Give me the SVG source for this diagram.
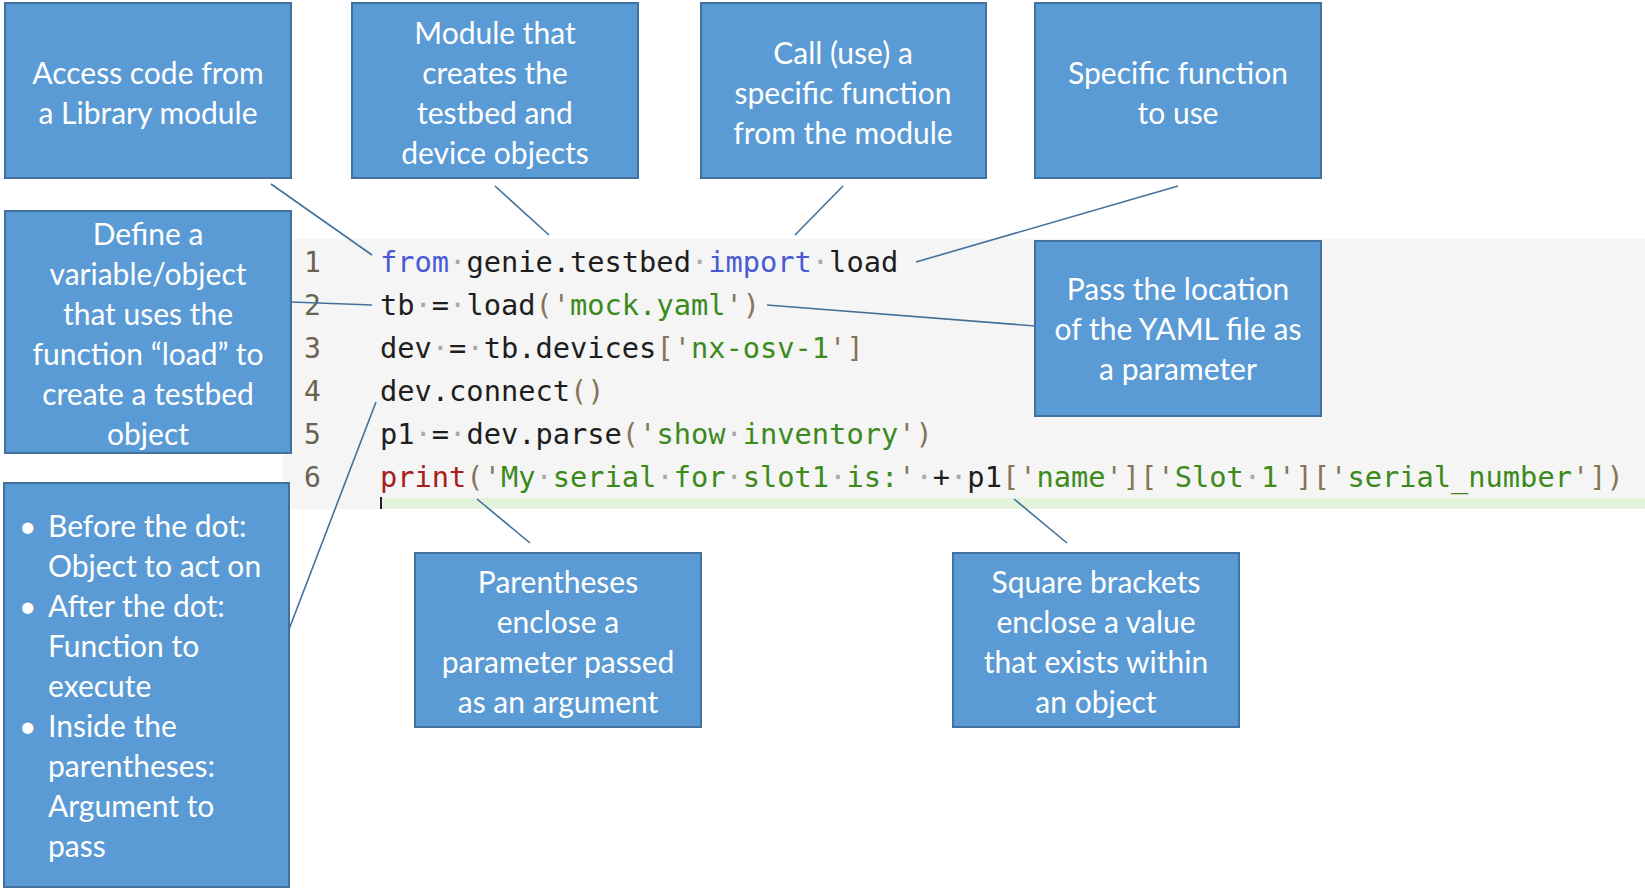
<svg xmlns="http://www.w3.org/2000/svg" width="1645" height="889" viewBox="0 0 1645 889">
<style>
.box{fill:#5b9bd5;stroke:#41719c;stroke-width:2}
.lbl{font-family:Lato,"Open Sans",sans-serif;font-size:30px;fill:#ffffff;text-anchor:middle}
.blt{font-family:Lato,"Open Sans",sans-serif;font-size:30px;fill:#ffffff}
.code{font-family:"DejaVu Sans Mono","Liberation Mono",monospace;font-size:28.7px;fill:#1e1e1e}
.ln{font-family:"DejaVu Sans Mono","Liberation Mono",monospace;font-size:28px;fill:#6b6352}
.kw{fill:#4a5ad6}
.str{fill:#3c8a1c}
.pn{fill:#857659}
.dt{fill:#a8a8a8}
.pr{fill:#a51d1d}
.conn line{stroke:#41719c;stroke-width:1.6}
</style>
<rect width="1645" height="889" fill="#ffffff"/>
<g id="code-area">
<rect x="283" y="239" width="1362" height="270" fill="#f5f5f5"/>
<rect x="380" y="498" width="1265" height="11" fill="#e4f4da"/>
<rect x="380" y="497" width="2" height="12" fill="#222"/>
<g class="ln">
<text x="304" y="272">1</text>
<text x="304" y="315">2</text>
<text x="304" y="358">3</text>
<text x="304" y="401">4</text>
<text x="304" y="444">5</text>
<text x="304" y="487">6</text>
</g>
<text class="code" x="380" y="272"><tspan class="kw">from</tspan><tspan class="dt">·</tspan>genie.testbed<tspan class="dt">·</tspan><tspan class="kw">import</tspan><tspan class="dt">·</tspan>load</text>
<text class="code" x="380" y="315">tb<tspan class="dt">·</tspan>=<tspan class="dt">·</tspan>load<tspan class="pn">('</tspan><tspan class="str">mock.yaml</tspan><tspan class="pn">')</tspan></text>
<text class="code" x="380" y="358">dev<tspan class="dt">·</tspan>=<tspan class="dt">·</tspan>tb.devices<tspan class="pn">['</tspan><tspan class="str">nx-osv-1</tspan><tspan class="pn">']</tspan></text>
<text class="code" x="380" y="401">dev.connect<tspan class="pn">()</tspan></text>
<text class="code" x="380" y="444">p1<tspan class="dt">·</tspan>=<tspan class="dt">·</tspan>dev.parse<tspan class="pn">('</tspan><tspan class="str">show</tspan><tspan class="dt">·</tspan><tspan class="str">inventory</tspan><tspan class="pn">')</tspan></text>
<text class="code" x="380" y="487"><tspan class="pr">print</tspan><tspan class="pn">('</tspan><tspan class="str">My</tspan><tspan class="dt">·</tspan><tspan class="str">serial</tspan><tspan class="dt">·</tspan><tspan class="str">for</tspan><tspan class="dt">·</tspan><tspan class="str">slot1</tspan><tspan class="dt">·</tspan><tspan class="str">is:</tspan><tspan class="pn">'</tspan><tspan class="dt">·</tspan>+<tspan class="dt">·</tspan>p1<tspan class="pn">['</tspan><tspan class="str">name</tspan><tspan class="pn">']['</tspan><tspan class="str">Slot</tspan><tspan class="dt">·</tspan><tspan class="str">1</tspan><tspan class="pn">']['</tspan><tspan class="str">serial_number</tspan><tspan class="pn">'])</tspan></text>
</g>
<g class="conn" id="connectors">
<line x1="271" y1="184" x2="372" y2="255"/>
<line x1="495" y1="186" x2="549" y2="235"/>
<line x1="843" y1="186" x2="795" y2="235"/>
<line x1="1178" y1="186" x2="916" y2="262"/>
<line x1="291" y1="302" x2="372" y2="305"/>
<line x1="767" y1="305" x2="1035" y2="326"/>
<line x1="288" y1="632" x2="376" y2="402"/>
<line x1="530" y1="543" x2="477" y2="499"/>
<line x1="1067" y1="543" x2="1014" y2="499"/>
</g>
<g id="box-access">
<rect class="box" x="5" y="3" width="286" height="175"/>
<text class="lbl" x="148" y="84">Access code from</text>
<text class="lbl" x="148" y="124">a Library module</text>
</g>
<g id="box-module">
<rect class="box" x="352" y="3" width="286" height="175"/>
<text class="lbl" x="495" y="44">Module that</text>
<text class="lbl" x="495" y="84">creates the</text>
<text class="lbl" x="495" y="124">testbed and</text>
<text class="lbl" x="495" y="164">device objects</text>
</g>
<g id="box-call">
<rect class="box" x="701" y="3" width="285" height="175"/>
<text class="lbl" x="843" y="64">Call (use) a</text>
<text class="lbl" x="843" y="104">specific function</text>
<text class="lbl" x="843" y="144">from the module</text>
</g>
<g id="box-specific">
<rect class="box" x="1035" y="3" width="286" height="175"/>
<text class="lbl" x="1178" y="84">Specific function</text>
<text class="lbl" x="1178" y="124">to use</text>
</g>
<g id="box-define">
<rect class="box" x="5" y="211" width="286" height="242"/>
<text class="lbl" x="148" y="245">Define a</text>
<text class="lbl" x="148" y="285">variable/object</text>
<text class="lbl" x="148" y="325">that uses the</text>
<text class="lbl" x="148" y="365">function “load” to</text>
<text class="lbl" x="148" y="405">create a testbed</text>
<text class="lbl" x="148" y="445">object</text>
</g>
<g id="box-pass">
<rect class="box" x="1035" y="241" width="286" height="175"/>
<text class="lbl" x="1178" y="300">Pass the location</text>
<text class="lbl" x="1178" y="340">of the YAML file as</text>
<text class="lbl" x="1178" y="380">a parameter</text>
</g>
<g id="box-dot">
<rect class="box" x="4" y="483" width="285" height="404"/>
<text class="blt" x="19" y="537">•</text>
<text class="blt" x="48" y="537">Before the dot:</text>
<text class="blt" x="48" y="577">Object to act on</text>
<text class="blt" x="19" y="617">•</text>
<text class="blt" x="48" y="617">After the dot:</text>
<text class="blt" x="48" y="657">Function to</text>
<text class="blt" x="48" y="697">execute</text>
<text class="blt" x="19" y="737">•</text>
<text class="blt" x="48" y="737">Inside the</text>
<text class="blt" x="48" y="777">parentheses:</text>
<text class="blt" x="48" y="817">Argument to</text>
<text class="blt" x="48" y="857">pass</text>
</g>
<g id="box-parens">
<rect class="box" x="415" y="553" width="286" height="174"/>
<text class="lbl" x="558" y="593">Parentheses</text>
<text class="lbl" x="558" y="633">enclose a</text>
<text class="lbl" x="558" y="673">parameter passed</text>
<text class="lbl" x="558" y="713">as an argument</text>
</g>
<g id="box-brackets">
<rect class="box" x="953" y="553" width="286" height="174"/>
<text class="lbl" x="1096" y="593">Square brackets</text>
<text class="lbl" x="1096" y="633">enclose a value</text>
<text class="lbl" x="1096" y="673">that exists within</text>
<text class="lbl" x="1096" y="713">an object</text>
</g>
</svg>
